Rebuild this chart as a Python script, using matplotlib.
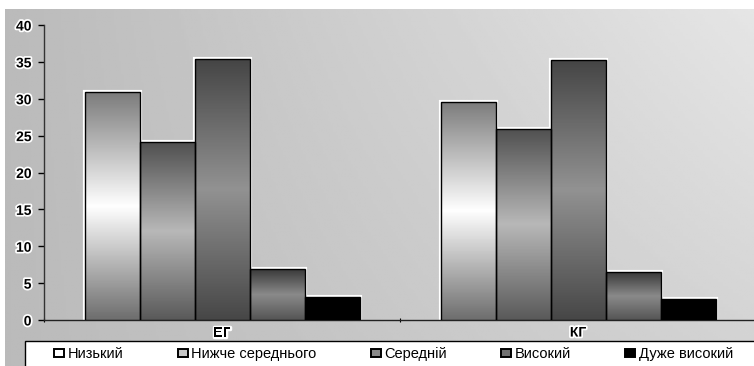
import matplotlib
matplotlib.use('Agg')
import matplotlib.pyplot as plt
import matplotlib.patheffects as pe
import numpy as np
from matplotlib.colors import LinearSegmentedColormap
from matplotlib.patches import Rectangle

plt.rcParams['font.family'] = ['Liberation Sans', 'DejaVu Sans']

# дані
groups = ['ЕГ', 'КГ']
levels = ['Низький', 'Нижче середнього', 'Середній', 'Високий', 'Дуже високий']
eg_vals = [30.9, 24.1, 35.4, 6.9, 3.1]
kg_vals = [29.6, 25.9, 35.3, 6.5, 2.8]
yticks = [0, 5, 10, 15, 20, 25, 30, 35, 40]

# градієнти стовпців (низ -> середина -> верх)
grad_stops = [
    ['#6e6e6e', '#ffffff', '#7c7c7c'],
    ['#5a5a5a', '#b8b8b8', '#505050'],
    ['#474747', '#929292', '#454545'],
    ['#555555', '#8a8a8a', '#3a3a3a'],
    ['#000000', '#000000', '#000000'],
]
legend_fill = ['#ffffff', '#c8c8c8', '#8a8a8a', '#707070', '#000000']

W, H = 754, 366
fig = plt.figure(figsize=(W / 100, H / 100), dpi=100)
fig.patch.set_facecolor('white')

# фон з градієнтом
bg = fig.add_axes([5 / W, 0, 1 - 5 / W, (H - 9) / H], zorder=0)
gx = np.linspace(0, 1, 300)
gy = np.linspace(0, 1, 100)
GX, GY = np.meshgrid(gx, gy)
shade = 0.73 + 0.17 * GX * (0.55 + 0.45 * GY)
bg.imshow(shade, cmap='gray', vmin=0, vmax=1, aspect='auto', origin='lower',
          extent=[0, 1, 0, 1])
bg.set_axis_off()

ax = fig.add_axes([44 / W, 46 / H, 712 / W, 295 / H], zorder=1)
ax.patch.set_alpha(0)

n = len(levels)
bw = 55 / 356
x = np.arange(len(groups))
data = np.array([eg_vals, kg_vals])

for i in range(n):
    pos = x + (i - (n - 1) / 2) * bw
    vals = data[:, i]
    ax.bar(pos, vals, width=bw, color='none', edgecolor='white', linewidth=3.0, zorder=2)
    bars = ax.bar(pos, vals, width=bw, color='none', edgecolor='black', linewidth=1.0,
                  zorder=4, label=levels[i])
    cmap = LinearSegmentedColormap.from_list('g%d' % i, [(0, grad_stops[i][0]),
                                                         (0.5, grad_stops[i][1]),
                                                         (1, grad_stops[i][2])])
    for b in bars:
        x0 = b.get_x()
        h = b.get_height()
        img = ax.imshow(np.linspace(0, 1, 200).reshape(-1, 1), cmap=cmap, aspect='auto',
                        origin='lower', extent=[x0, x0 + bw, 0, h], zorder=3)
        clip = Rectangle((x0, 0), bw, h, transform=ax.transData)
        img.set_clip_path(clip)

halo = [pe.withStroke(linewidth=2.5, foreground='white')]

ax.set_xlim(-0.5, 1.5)
ax.set_ylim(0, 40)
ax.set_yticks(yticks)
ax.set_yticklabels([str(v) for v in yticks], fontsize=10, fontweight='bold')
ax.tick_params(axis='y', length=4, width=1, pad=5)
for t in ax.get_yticklabels():
    t.set_path_effects(halo)

ax.set_xticks([-0.5, 0.5, 1.5])
ax.set_xticklabels(['', '', ''])
ax.set_xticks(x, minor=True)
ax.set_xticklabels(groups, minor=True, fontsize=10, fontweight='bold')
ax.tick_params(axis='x', which='major', length=3, width=0.8, direction='inout')
ax.tick_params(axis='x', which='minor', length=0, pad=4)
for t in ax.get_xticklabels(minor=True):
    t.set_path_effects(halo)

for s in ['top', 'right']:
    ax.spines[s].set_visible(False)
ax.spines['left'].set_color('#333333')
ax.spines['bottom'].set_color('#222222')
ax.spines['left'].set_linewidth(1)
ax.spines['bottom'].set_linewidth(1)

# легенда
handles = [Rectangle((0, 0), 1, 1, facecolor=c, edgecolor='black', linewidth=1.4)
           for c in legend_fill]
leg_box = Rectangle((25 / W, -0.02), 1, 25 / H + 0.02, transform=fig.transFigure,
                    facecolor='white', edgecolor='black', linewidth=1, zorder=2)
fig.patches.append(leg_box)
leg = fig.legend(handles, levels, loc='center left', bbox_to_anchor=(54 / W, 12 / H),
                 ncol=5, frameon=False, fontsize=10.5, handlelength=0.7,
                 handleheight=0.5, handletextpad=0.25, columnspacing=3.7,
                 borderaxespad=0, borderpad=0)
leg.set_zorder(3)

fig.savefig('out.png', dpi=100)
